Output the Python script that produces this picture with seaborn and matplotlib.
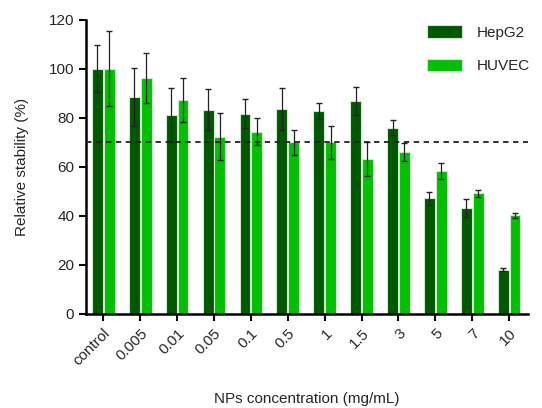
import matplotlib
matplotlib.use("Agg")
import matplotlib.pyplot as plt
import numpy as np
import pandas as pd
import seaborn as sns

concentrations = ["control", "0.005", "0.01", "0.05", "0.1", "0.5", "1", "1.5", "3", "5", "7", "10"]
cells = ["HepG2", "HUVEC"]
hepg2_mean = [100.2, 88.6, 81.3, 83.4, 81.8, 83.8, 82.9, 86.8, 76.0, 47.2, 43.3, 18.1]
hepg2_sd = [9.5, 11.8, 11.0, 8.5, 5.8, 8.5, 3.2, 5.7, 3.0, 2.7, 3.8, 0.5]
huvec_mean = [100.2, 96.3, 87.3, 72.4, 74.4, 70.0, 70.0, 63.3, 66.2, 58.2, 49.2, 40.3]
huvec_sd = [15.5, 10.2, 9.0, 9.6, 5.6, 5.3, 6.8, 7.0, 3.6, 3.3, 1.5, 1.0]
threshold = 70

df = pd.DataFrame({
    "conc": concentrations * 2,
    "cell": [cells[0]] * len(concentrations) + [cells[1]] * len(concentrations),
    "value": hepg2_mean + huvec_mean,
})
sds = {cells[0]: hepg2_sd, cells[1]: huvec_sd}

sns.set_style("ticks")
plt.rcParams['font.family'] = ['Liberation Sans', 'DejaVu Sans']

fig = plt.figure(figsize=(5.42, 4.08), dpi=100)
ax = fig.add_axes([0.1587, 0.2304, 0.8153, 0.7206])

palette = {"HepG2": "#005800", "HUVEC": "#00c000"}
sns.barplot(data=df, x="conc", y="value", hue="cell", order=concentrations,
            hue_order=cells, palette=palette, saturation=1, width=0.64, gap=0.08,
            errorbar=None, edgecolor="#cfe8cf", linewidth=0.8, ax=ax)

# error bars on top of each bar
for cont, cell in zip(ax.containers, cells):
    xs = [p.get_x() + p.get_width() / 2 for p in cont.patches]
    ys = [p.get_height() for p in cont.patches]
    ax.errorbar(xs, ys, yerr=sds[cell], fmt="none", ecolor="#222222",
                elinewidth=0.9, capsize=2.2, capthick=1.0, zorder=5)

ax.axhline(threshold, color="#222222", ls=(0, (3, 2.5)), lw=1.3, zorder=4)

ax.set_ylim(0, 120)
ax.set_xlim(-0.47, 11.51)
ax.set_yticks(range(0, 121, 20))
ax.tick_params(axis="both", direction="out", length=5, width=1.5, labelsize=11, color="black")
ax.set_xticks(range(len(concentrations)))
ax.set_xticklabels(concentrations, rotation=45, ha="right", rotation_mode="anchor")
for s in ["top", "right"]:
    ax.spines[s].set_visible(False)
for s in ["left", "bottom"]:
    ax.spines[s].set_linewidth(1.8)
    ax.spines[s].set_color("black")

ax.set_ylabel("Relative stability (%)", fontsize=11, labelpad=14)
ax.set_xlabel("NPs concentration (mg/mL)", fontsize=11, labelpad=17)

ax.legend(loc="upper left", bbox_to_anchor=(0.74, 1.03), frameon=False, fontsize=11,
          handlelength=2.3, handleheight=0.9, labelspacing=1.25, handletextpad=1.0)

fig.savefig("out.png", dpi=100)
